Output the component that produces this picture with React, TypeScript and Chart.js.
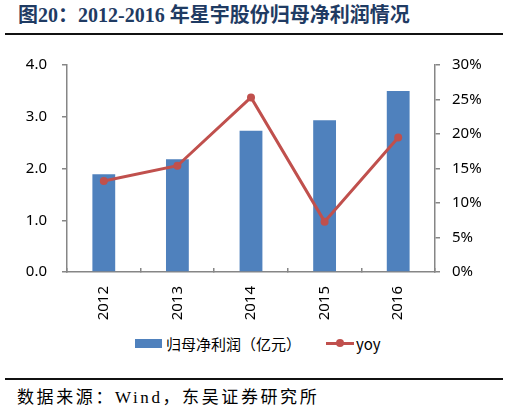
import React, { useEffect, useRef } from 'react';
import Chart from 'chart.js/auto';

const years = ['2012', '2013', '2014', '2015', '2016'];
const netProfit = [1.89, 2.18, 2.73, 2.93, 3.5]; // 亿元
const yoy = [13.2, 15.4, 25.3, 7.3, 19.5]; // %
const leftTicks = [0, 1, 2, 3, 4];
const rightTicks = [0, 5, 10, 15, 20, 25, 30];

const BLUE = '#4f81bd';
const RED = '#c0504d';
const AXIS = '#868686';
const TICK_FONT = { family: '"Noto Sans", sans-serif', size: 15 };

const App: React.FC = () => {
  const chartRef = useRef<HTMLCanvasElement>(null);
  const chartInstance = useRef<Chart | null>(null);

  useEffect(() => {
    if (!chartRef.current) return;
    if (chartInstance.current) chartInstance.current.destroy();
    const ctx = chartRef.current.getContext('2d');
    if (!ctx) return;

    chartInstance.current = new Chart(ctx, {
      type: 'bar',
      data: {
        labels: years,
        datasets: [
          {
            type: 'line',
            label: 'yoy',
            data: yoy,
            yAxisID: 'y1',
            borderColor: RED,
            backgroundColor: RED,
            borderWidth: 3,
            pointRadius: 4,
            pointBorderWidth: 0,
            order: 0,
          },
          {
            type: 'bar',
            label: '归母净利润（亿元）',
            data: netProfit,
            yAxisID: 'y',
            backgroundColor: BLUE,
            barPercentage: 0.31,
            categoryPercentage: 1,
            order: 1,
          },
        ],
      },
      options: {
        animation: false,
        responsive: false,
        maintainAspectRatio: false,
        layout: { padding: { top: 25, left: 0, right: 0, bottom: 0 } },
        plugins: {
          legend: { display: false },
          tooltip: { enabled: false },
        },
        scales: {
          x: {
            offset: true,
            border: { display: true, color: AXIS, width: 1.5 },
            grid: {
              display: true,
              offset: true,
              drawOnChartArea: false,
              drawTicks: true,
              tickLength: -4,
              color: AXIS,
              lineWidth: 1.5,
            },
            ticks: {
              color: '#000',
              font: TICK_FONT,
              minRotation: 90,
              maxRotation: 90,
              padding: 18,
            },
            afterFit: (s: any) => {
              s.height = 50;
            },
          },
          y: {
            position: 'left',
            min: 0,
            max: 4,
            afterBuildTicks: (s: any) => {
              s.ticks = leftTicks.map((v) => ({ value: v }));
            },
            border: { display: true, color: AXIS, width: 1.5 },
            grid: {
              drawOnChartArea: false,
              drawTicks: true,
              tickLength: 5,
              color: AXIS,
              lineWidth: 1.5,
            },
            ticks: {
              color: '#000',
              font: TICK_FONT,
              padding: 15,
              callback: (v: any) => Number(v).toFixed(1),
            },
            afterFit: (s: any) => {
              s.width = 67;
            },
          },
          y1: {
            position: 'right',
            min: 0,
            max: 30,
            afterBuildTicks: (s: any) => {
              s.ticks = rightTicks.map((v) => ({ value: v }));
            },
            border: { display: true, color: AXIS, width: 1.5 },
            grid: {
              drawOnChartArea: false,
              drawTicks: true,
              tickLength: 5,
              color: AXIS,
              lineWidth: 1.5,
            },
            ticks: {
              color: '#000',
              font: TICK_FONT,
              padding: 12,
              callback: (v: any) => `${v}%`,
            },
            afterFit: (s: any) => {
              s.width = 74;
            },
          },
        },
      },
    });

    return () => {
      if (chartInstance.current) {
        chartInstance.current.destroy();
        chartInstance.current = null;
      }
    };
  }, []);

  const cjk = '"Noto Sans CJK SC", "Noto Sans", sans-serif';
  const serif = '"Liberation Serif", "Noto Sans CJK SC", serif';

  return (
    <div
      style={{
        position: 'absolute',
        left: 0,
        top: 0,
        width: 509,
        height: 412,
        background: '#fff',
        overflow: 'hidden',
      }}
    >
      <div
        style={{
          position: 'absolute',
          left: 18,
          top: 3,
          fontFamily: serif,
          fontWeight: 'bold',
          fontSize: 20,
          color: '#1f3b63',
          whiteSpace: 'nowrap',
          lineHeight: '24px',
        }}
      >
        图20：2012-2016 年星宇股份归母净利润情况
      </div>
      <div style={{ position: 'absolute', left: 5, top: 33, width: 498, height: 2, background: '#111' }} />

      <canvas
        ref={chartRef}
        width={509}
        height={282}
        style={{ position: 'absolute', left: 0, top: 40, width: 509, height: 282 }}
      />

      <div
        style={{
          position: 'absolute',
          left: 135,
          top: 330,
          height: 26,
          display: 'flex',
          alignItems: 'center',
          fontFamily: cjk,
          fontSize: 15,
          color: '#000',
          whiteSpace: 'nowrap',
        }}
      >
        <span style={{ display: 'inline-block', width: 27, height: 9, background: BLUE }} />
        <span style={{ marginLeft: 4 }}>归母净利润（亿元）</span>
        <span style={{ position: 'relative', display: 'inline-block', width: 28, height: 9, marginLeft: 25 }}>
          <span style={{ position: 'absolute', left: 0, top: 3, width: 28, height: 3, background: RED }} />
          <span
            style={{
              position: 'absolute',
              left: 10,
              top: 0.5,
              width: 8,
              height: 8,
              borderRadius: 4,
              background: RED,
            }}
          />
        </span>
        <span style={{ marginLeft: 2 }}>yoy</span>
      </div>

      <div style={{ position: 'absolute', left: 5, top: 378, width: 498, height: 2, background: '#111' }} />
      <div
        style={{
          position: 'absolute',
          left: 17,
          top: 386,
          fontFamily: serif,
          fontSize: 17,
          letterSpacing: 2.6,
          color: '#000',
          whiteSpace: 'nowrap',
          lineHeight: '24px',
        }}
      >
        数据来源：Wind，东吴证券研究所
      </div>
    </div>
  );
};

export default App;
